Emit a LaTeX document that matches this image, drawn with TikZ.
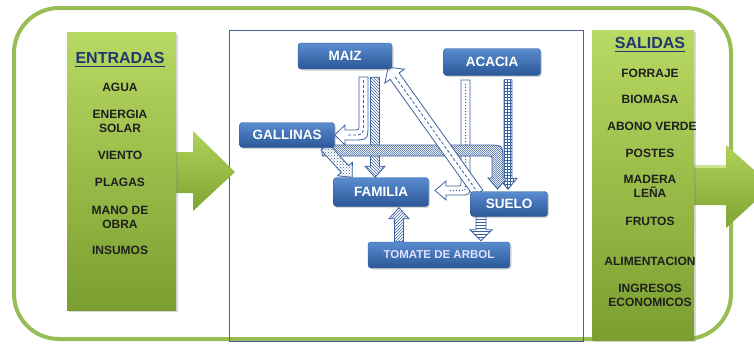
\documentclass[tikz,border=0pt]{standalone}
\usepackage{fontspec}
\setmainfont{Liberation Sans}
\usetikzlibrary{calc,patterns,shadows}
\pgfdeclarelayer{back}
\pgfdeclarelayer{mid}
\pgfsetlayers{back,mid,main}

\definecolor{frame}{RGB}{152,189,84}
\definecolor{limetop}{RGB}{184,217,98}
\definecolor{limebot}{RGB}{122,158,48}
\definecolor{arrowtop}{RGB}{176,210,90}
\definecolor{arrowbot}{RGB}{126,164,50}
\definecolor{boxline}{RGB}{68,98,150}
\definecolor{bluetop}{RGB}{90,140,208}
\definecolor{bluebot}{RGB}{42,88,152}
\definecolor{blueline}{RGB}{50,92,156}
\definecolor{arrline}{RGB}{58,98,160}
\definecolor{titleblue}{RGB}{31,56,110}

\pgfdeclarepatternformonly{finechecker}{\pgfqpoint{0pt}{0pt}}{\pgfqpoint{2.4pt}{2.4pt}}{\pgfqpoint{2.4pt}{2.4pt}}%
  {\pgfpathrectangle{\pgfqpoint{0pt}{0pt}}{\pgfqpoint{1.2pt}{1.2pt}}%
   \pgfpathrectangle{\pgfqpoint{1.2pt}{1.2pt}}{\pgfqpoint{1.2pt}{1.2pt}}\pgfusepath{fill}}

\tikzset{
  column/.style={top color=limetop, bottom color=limebot,
    drop shadow={opacity=.3, shadow xshift=2pt, shadow yshift=-2pt}},
  bigarrow/.style={top color=arrowtop, bottom color=arrowbot},
  title/.style={font=\bfseries\fontsize{16}{18}\selectfont, text=titleblue, inner sep=0pt},
  item/.style={font=\bfseries\fontsize{12}{14}\selectfont, align=center, text=black!88, inner sep=0pt},
  part/.style={draw=blueline, rounded corners=3pt, top color=bluetop, bottom color=bluebot,
    text=white, font=\bfseries\fontsize{13.5}{15}\selectfont, inner sep=0pt,
    drop shadow={opacity=.3, shadow xshift=1.5pt, shadow yshift=-1.5pt}},
  barrow/.style={draw=arrline, line width=.8pt, preaction={fill=white}},
  dashline/.style={arrline, line width=.8pt, dash pattern=on 3pt off 2pt},
  dotline/.style={arrline, line width=1pt, dash pattern=on 1pt off 2pt}
}

\newcommand\blockarrow[5][]{%
  \coordinate (head) at ($(#3)!11pt!(#2)$);
  \path[barrow,#1] ($(#2)!#4!90:(#3)$) -- ($(head)!#4!90:(#3)$) -- ($(head)!#5!90:(#3)$) -- (#3)
    -- ($(head)!#5!-90:(#3)$) -- ($(head)!#4!-90:(#3)$) -- ($(#2)!#4!-90:(#3)$) -- cycle;}

\begin{document}
\begin{tikzpicture}[x=1pt,y=-1pt]
\useasboundingbox (0,0) rectangle (754,343);

\node[part, minimum width=94pt, minimum height=26pt] (maiz) at (345,56) {MAIZ};
\node[part, minimum width=97pt, minimum height=27pt] (acacia) at (492,62) {ACACIA};
\node[part, minimum width=95pt, minimum height=25pt] (gallinas) at (287,135) {GALLINAS};
\node[part, minimum width=95pt, minimum height=29pt] (familia) at (381,192) {FAMILIA};
\node[part, minimum width=77pt, minimum height=25pt] (suelo) at (509,204) {SUELO};
\node[part, minimum width=142pt, minimum height=26pt, font=\bfseries\fontsize{11.5}{13}\selectfont,
  text=white!88!blue] (tomate) at (439,255) {TOMATE DE ARBOL};

\begin{pgfonlayer}{back}
  \draw[frame, line width=4pt, rounded corners=45pt] (14,8) rectangle (731,339);
  \draw[boxline, line width=1pt] (229,30) rectangle (583,341);
  \path[bigarrow] (170,152) -- (193,152) -- (193,131) -- (235,172) -- (193,211) -- (193,193) -- (170,193) -- cycle;
  \path[column] (67,32) rectangle (176,310);
  \path[bigarrow] (688,165) -- (726,165) -- (726,145) -- (772,186) -- (726,228) -- (726,205) -- (688,205) -- cycle;
  \fill[limetop!70!white] (694,165) rectangle (726,168);
  \path[column] (592,30) rectangle (694,340);
\end{pgfonlayer}

\coordinate (a2s) at ($(maiz.south)+(30,8)$);
\coordinate (a2t) at ($(familia.north)+(-6,0)$);
\coordinate (a3s) at ($(suelo.north west)+(8,2)$);
\coordinate (a3t) at ($(maiz.south east)+(-4,-2)$);
\coordinate (a5s) at ($(acacia.south)+(16,4)$);
\coordinate (a5t) at ($(suelo.north)+(-1,-2)$);
\coordinate (a7s) at ($(gallinas.south east)+(-10,-1)$);
\coordinate (a7t) at ($(familia.north west)+(19,0)$);
\coordinate (a8s) at ($(tomate.north)+(-40,0)$);
\coordinate (a8t) at ($(familia.south)+(18,1)$);
\coordinate (a9s) at ($(suelo.south)+(-28,0)$);
\coordinate (a9t) at ($(tomate.north)+(42,-1)$);

\begin{pgfonlayer}{mid}
  \path[barrow] (359,77) -- (368,77) -- (368,124) .. controls (368,140) .. (352,140) -- (345,140)
    -- (345,145) -- (gallinas.east) -- (345,125) -- (345,130) -- (353,130) .. controls (359,130) .. (359,124) -- cycle;
  \draw[dashline] (363.5,80) -- (363.5,124) .. controls (363.5,135) .. (352,135) -- (347,135);
  \blockarrow[pattern=north west lines, pattern color=arrline]{a2s}{a2t}{4.5pt}{10pt}
  \blockarrow[pattern=grid, pattern color=arrline]{a5s}{a5t}{4pt}{9pt}
  \path[barrow] (461,80) -- (470,80) -- (470,185) .. controls (470,195) .. (460,195) -- (446,195)
    -- (446,200) -- (435,190.5) -- (446,181) -- (446,186) -- (457,186) .. controls (461,186) .. (461,182) -- cycle;
  \draw[dotline] (465.5,84) -- (465.5,185) .. controls (465.5,190.5) .. (460,190.5) -- (448,190.5);
  \path[barrow, pattern=finechecker, pattern color=arrline!75] (322,145) -- (487,145) .. controls (503,145) .. (503,161)
    -- (503,178) -- (507,178) -- (497.5,189) -- (488,178) -- (492,178) -- (492,161) .. controls (492,156) .. (487,156)
    -- (322,156) -- cycle;
  \blockarrow[pattern=crosshatch dots, pattern color=arrline]{a7s}{a7t}{5pt}{10pt}
  \blockarrow{a3s}{a3t}{5.5pt}{12pt}
  \draw[dashline, shorten >=12pt] (a3s) -- (a3t);
  \blockarrow[pattern=north east lines, pattern color=arrline]{a8s}{a8t}{4.5pt}{10pt}
  \blockarrow[pattern=horizontal lines, pattern color=arrline]{a9s}{a9t}{5pt}{11pt}
\end{pgfonlayer}

\node[title] (entradas) at (120,58) {ENTRADAS};
\draw[titleblue, line width=1.2pt] ($(entradas.base west)+(0,3.3)$) -- ($(entradas.base east)+(0,3.3)$);
\node[item] (agua) at (120,87.5) {AGUA};
\node[item] (energia) at (120,121) {ENERGIA\\SOLAR};
\node[item] (viento) at (120,155) {VIENTO};
\node[item] (plagas) at (120,182) {PLAGAS};
\node[item] (mano) at (120,217) {MANO DE\\OBRA};
\node[item] (insumos) at (120,250) {INSUMOS};

\node[title] (salidas) at (650,43) {SALIDAS};
\draw[titleblue, line width=1.2pt] ($(salidas.base west)+(0,3.3)$) -- ($(salidas.base east)+(0,3.3)$);
\node[item] (forraje) at (650,73) {FORRAJE};
\node[item] (biomasa) at (650,99.5) {BIOMASA};
\node[item] (abono) at (652,126) {ABONO VERDE};
\node[item] (postes) at (650,153) {POSTES};
\node[item] (madera) at (650,186.5) {MADERA\\LEÑA};
\node[item] (frutos) at (650,221) {FRUTOS};
\node[item] (alimentacion) at (650,261) {ALIMENTACION};
\node[item] (ingresos) at (650,295.5) {INGRESOS\\ECONOMICOS};
\end{tikzpicture}
\end{document}
